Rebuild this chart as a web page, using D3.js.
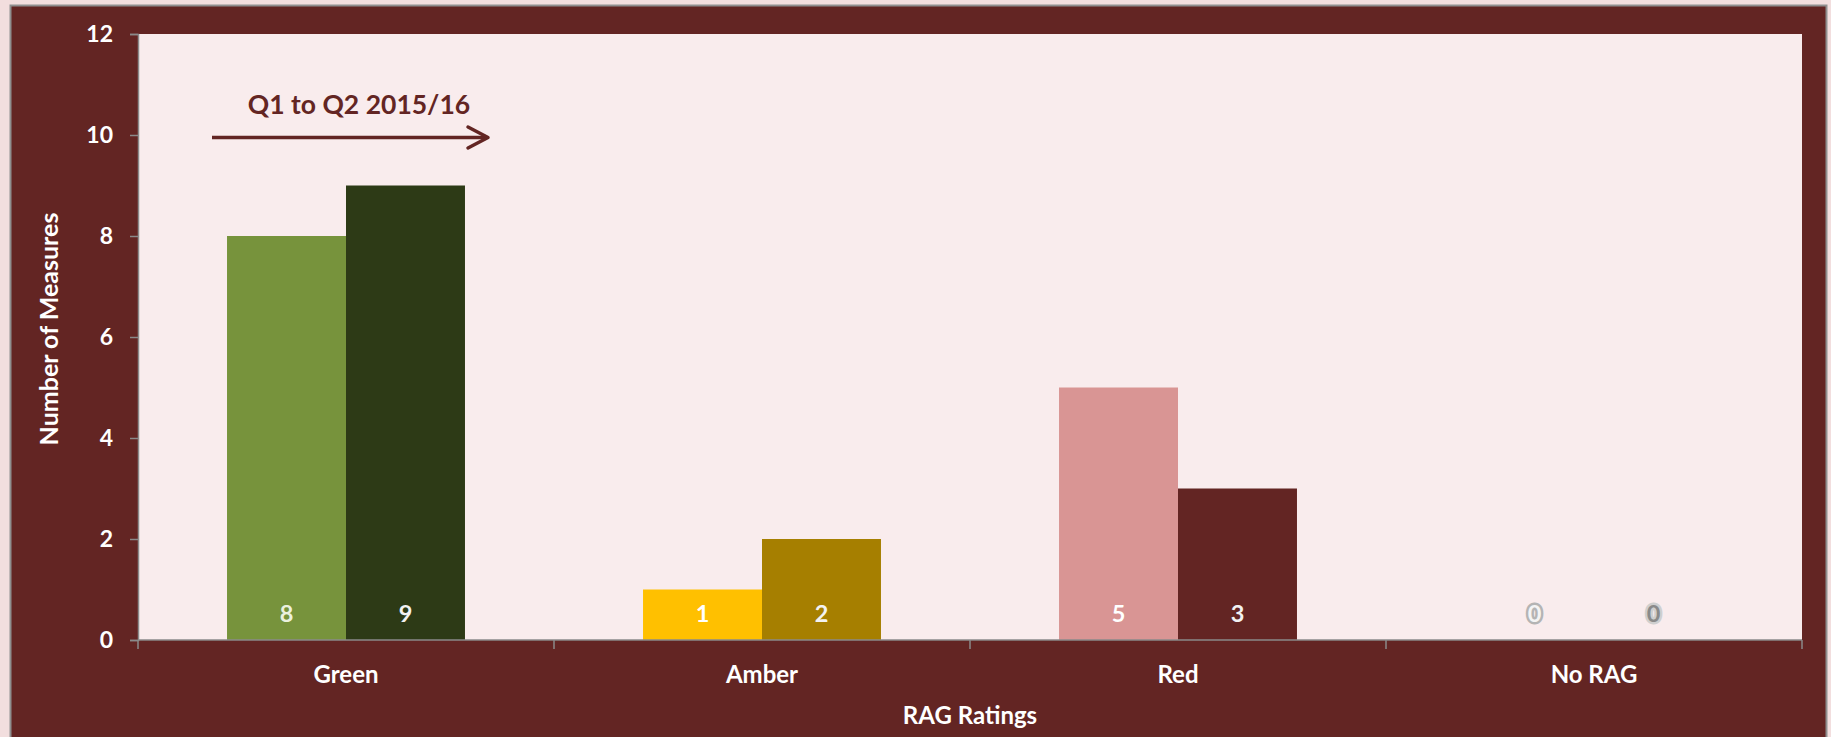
<!DOCTYPE html>
<html>
<head>
<meta charset="utf-8">
<script src="https://cdn.jsdelivr.net/npm/d3@7"></script>
<style>
  html, body { margin: 0; padding: 0; background: #f2dede; }
  svg { display: block; }
  text { font-family: Lato, "Open Sans", sans-serif; font-weight: 700; }
</style>
</head>
<body>
<svg id="chart" width="1831" height="737"></svg>
<script>
// RAG rating categories and the two quarters compared
const categories = ["Green", "Amber", "Red", "No RAG"];
const series = ["Q1", "Q2"];
const q1Values = [8, 1, 5, 0];
const q2Values = [9, 2, 3, 0];
const yTicks = [0, 2, 4, 6, 8, 10, 12];

// Fill colour per category and quarter
const barColors = {
  "Green":  ["#77933c", "#2d3a16"],
  "Amber":  ["#ffc000", "#a67f00"],
  "Red":    ["#d99594", "#632523"],
  "No RAG": ["#bfbfbf", "#7f7f7f"]
};
const labelColors = {
  "Green":  ["#ebf1de", "#f2f2f2"],
  "Amber":  ["#ffffff", "#f2f2f2"],
  "Red":    ["#ffffff", "#f2f2f2"],
  "No RAG": ["#f4f4f4", "#8a8a8a"]
};
const zeroHalo = ["#b4b4b4", "#cfcfcf"];

const data = categories.map((c, i) => ({ cat: c, values: [q1Values[i], q2Values[i]] }));

const svg = d3.select("#chart");
const W = 1831, H = 737;
const maroon = "#632523";

// Outer chart frame
svg.append("rect")
  .attr("x", 10.5).attr("y", 5.5)
  .attr("width", 1816).attr("height", H + 20)
  .attr("fill", maroon)
  .attr("stroke", "#8f8f8f").attr("stroke-width", 2);

const plot = { left: 138, top: 34, right: 1802, bottom: 640 };

// Plot area
svg.append("rect")
  .attr("x", plot.left).attr("y", plot.top)
  .attr("width", plot.right - plot.left).attr("height", plot.bottom - plot.top)
  .attr("fill", "#f9eced");

const x0 = d3.scaleBand().domain(categories).range([plot.left, plot.right]).padding(0);
const groupFrac = 0.572;
const x1 = d3.scaleBand().domain(series)
  .range([x0.bandwidth() * (1 - groupFrac) / 2, x0.bandwidth() * (1 + groupFrac) / 2])
  .padding(0);
const y = d3.scaleLinear().domain([0, 12]).range([plot.bottom, plot.top]);

// Bars
const groups = svg.append("g").selectAll("g")
  .data(data).join("g")
  .attr("transform", d => `translate(${x0(d.cat)},0)`);

groups.selectAll("rect")
  .data(d => d.values.map((v, i) => ({ cat: d.cat, s: series[i], i, v })))
  .join("rect")
  .attr("x", d => x1(d.s))
  .attr("y", d => y(d.v))
  .attr("width", x1.bandwidth())
  .attr("height", d => y(0) - y(d.v))
  .attr("fill", d => barColors[d.cat][d.i]);

// Value labels near the base of each bar
groups.selectAll("text.val")
  .data(d => d.values.map((v, i) => ({ cat: d.cat, s: series[i], i, v })))
  .join("text")
  .attr("class", "val")
  .attr("x", d => x1(d.s) + x1.bandwidth() / 2)
  .attr("y", y(0) - 18)
  .attr("text-anchor", "middle")
  .attr("font-size", 23.5)
  .attr("fill", d => labelColors[d.cat][d.i])
  .attr("stroke", d => d.v === 0 ? zeroHalo[d.i] : "none")
  .attr("stroke-width", d => d.v === 0 ? 5 : 0)
  .attr("stroke-linejoin", "round")
  .attr("paint-order", "stroke")
  .text(d => d.v);

// Y axis
const yAxis = svg.append("g")
  .attr("transform", `translate(${plot.left},0)`)
  .call(d3.axisLeft(y).tickValues(yTicks).tickSize(8).tickPadding(17));
yAxis.select(".domain").attr("stroke", "#8a8a8a").attr("stroke-width", 1.5);
yAxis.selectAll(".tick line").attr("stroke", "#8a8a8a").attr("stroke-width", 1.5);
yAxis.selectAll(".tick text")
  .attr("fill", "#ffffff").attr("font-size", 23)
  .attr("font-family", "Lato, sans-serif").attr("font-weight", 700);

// X axis: baseline, band boundary ticks and category names
const xAxis = svg.append("g");
xAxis.append("line")
  .attr("x1", plot.left).attr("x2", plot.right)
  .attr("y1", y(0)).attr("y2", y(0))
  .attr("stroke", "#8a8a8a").attr("stroke-width", 1.5);
const bounds = categories.map(c => x0(c)).concat([x0(categories[categories.length - 1]) + x0.bandwidth()]);
xAxis.selectAll("line.tick")
  .data(bounds).join("line")
  .attr("class", "tick")
  .attr("x1", d => d).attr("x2", d => d)
  .attr("y1", y(0)).attr("y2", y(0) + 9)
  .attr("stroke", "#8a8a8a").attr("stroke-width", 1.5);
xAxis.selectAll("text")
  .data(categories).join("text")
  .attr("x", d => x0(d) + x0.bandwidth() / 2)
  .attr("y", 683)
  .attr("text-anchor", "middle")
  .attr("font-size", 24)
  .attr("fill", "#ffffff")
  .text(d => d);

// Axis titles
svg.append("text")
  .attr("x", (plot.left + plot.right) / 2).attr("y", 724)
  .attr("text-anchor", "middle").attr("font-size", 24).attr("fill", "#ffffff")
  .text("RAG Ratings");
svg.append("text")
  .attr("transform", "translate(58,329) rotate(-90)")
  .attr("text-anchor", "middle").attr("font-size", 25).attr("fill", "#ffffff")
  .text("Number of Measures");

// Period annotation with arrow
svg.append("text")
  .attr("x", 359).attr("y", 114)
  .attr("text-anchor", "middle").attr("font-size", 26.5).attr("fill", maroon)
  .text("Q1 to Q2 2015/16");
svg.append("line")
  .attr("x1", 212).attr("x2", 487).attr("y1", 137.5).attr("y2", 137.5)
  .attr("stroke", maroon).attr("stroke-width", 3.5);
svg.append("path")
  .attr("d", "M468,127 L488,137.5 L468,148")
  .attr("fill", "none").attr("stroke", maroon).attr("stroke-width", 3.5)
  .attr("stroke-linecap", "round").attr("stroke-linejoin", "round");
</script>
</body>
</html>
